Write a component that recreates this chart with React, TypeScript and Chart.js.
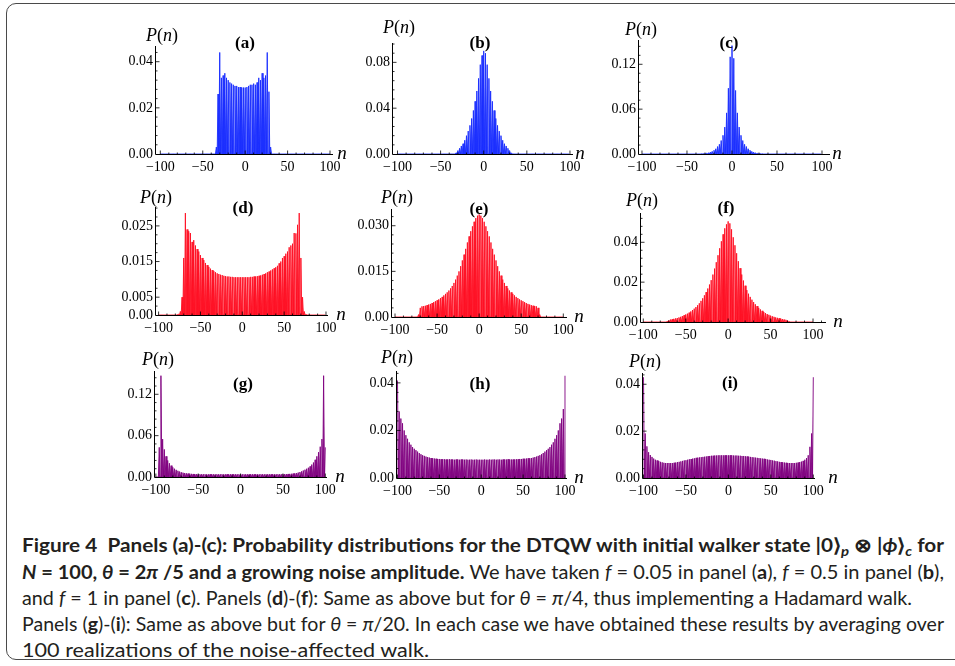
import React, { useEffect, useLayoutEffect, useRef } from "react";
import { Chart, registerables } from "chart.js";

Chart.register(...registerables);

// ---------- DATA ----------
// lattice sites n of the walk (N = 100 steps)
const SITES = [
  -100, -99, -98, -97, -96, -95, -94, -93, -92, -91,
  -90, -89, -88, -87, -86, -85, -84, -83, -82, -81,
  -80, -79, -78, -77, -76, -75, -74, -73, -72, -71,
  -70, -69, -68, -67, -66, -65, -64, -63, -62, -61,
  -60, -59, -58, -57, -56, -55, -54, -53, -52, -51,
  -50, -49, -48, -47, -46, -45, -44, -43, -42, -41,
  -40, -39, -38, -37, -36, -35, -34, -33, -32, -31,
  -30, -29, -28, -27, -26, -25, -24, -23, -22, -21,
  -20, -19, -18, -17, -16, -15, -14, -13, -12, -11,
  -10, -9, -8, -7, -6, -5, -4, -3, -2, -1,
  0, 1, 2, 3, 4, 5, 6, 7, 8, 9,
  10, 11, 12, 13, 14, 15, 16, 17, 18, 19,
  20, 21, 22, 23, 24, 25, 26, 27, 28, 29,
  30, 31, 32, 33, 34, 35, 36, 37, 38, 39,
  40, 41, 42, 43, 44, 45, 46, 47, 48, 49,
  50, 51, 52, 53, 54, 55, 56, 57, 58, 59,
  60, 61, 62, 63, 64, 65, 66, 67, 68, 69,
  70, 71, 72, 73, 74, 75, 76, 77, 78, 79,
  80, 81, 82, 83, 84, 85, 86, 87, 88, 89,
  90, 91, 92, 93, 94, 95, 96, 97, 98, 99,
  100,
];

// after an even number of steps the walker is never found on an odd site
const ODD_SITE_P = 0;

// P(n) on even sites n = -100, -98, ..., 100 (each row = 10 sites)
const P_A = [
  0, 0, 0, 0, 0, 0, 0, 0, 0, 0,
  0, 0, 0, 0, 0, 0, 0, 0, 0, 0,
  0, 0, 0, 0, 0, 0, 0, 0, 0, 0,
  0, 0, 0, 0.003, 0.026, 0.044, 0.033, 0.034, 0.035, 0.033,
  0.032, 0.031, 0.0305, 0.03, 0.0295, 0.0295, 0.029, 0.029, 0.0288, 0.0288,
  0.0288, 0.029, 0.0295, 0.03, 0.03, 0.0305, 0.03, 0.031, 0.033, 0.032,
  0.035, 0.033, 0.034, 0.044, 0.027, 0.003, 0, 0, 0, 0,
  0, 0, 0, 0, 0, 0, 0, 0, 0, 0,
  0, 0, 0, 0, 0, 0, 0, 0, 0, 0,
  0, 0, 0, 0, 0, 0, 0, 0, 0, 0,
  0,
];
const P_B = [
  0, 0, 0, 0, 0, 0, 0, 0, 0, 0,
  0, 0, 0, 0, 0, 0, 0, 0, 0, 0,
  0, 0, 0, 0, 0, 0, 0, 0, 0, 0,
  0, 0, 0, 0, 0.001, 0.003, 0.005, 0.007, 0.009, 0.012,
  0.016, 0.02, 0.025, 0.031, 0.038, 0.046, 0.055, 0.066, 0.078, 0.086,
  0.09, 0.088, 0.078, 0.066, 0.055, 0.046, 0.038, 0.031, 0.025, 0.02,
  0.016, 0.012, 0.009, 0.007, 0.005, 0.003, 0.001, 0, 0, 0,
  0, 0, 0, 0, 0, 0, 0, 0, 0, 0,
  0, 0, 0, 0, 0, 0, 0, 0, 0, 0,
  0, 0, 0, 0, 0, 0, 0, 0, 0, 0,
  0,
];
const P_C = [
  0, 0, 0, 0, 0, 0, 0, 0, 0, 0,
  0, 0, 0, 0, 0, 0, 0, 0, 0, 0,
  0, 0, 0, 0, 0, 0, 0, 0, 0, 0,
  0, 0, 0, 0.0002, 0.0004, 0.0007, 0.001, 0.0017, 0.0025, 0.0035,
  0.005, 0.007, 0.01, 0.013, 0.018, 0.025, 0.036, 0.055, 0.088, 0.13,
  0.145, 0.128, 0.085, 0.055, 0.036, 0.025, 0.018, 0.013, 0.01, 0.007,
  0.005, 0.0035, 0.0025, 0.0017, 0.001, 0.0007, 0.0004, 0.0002, 0, 0,
  0, 0, 0, 0, 0, 0, 0, 0, 0, 0,
  0, 0, 0, 0, 0, 0, 0, 0, 0, 0,
  0, 0, 0, 0, 0, 0, 0, 0, 0, 0,
  0,
];
const P_D = [
  0, 0, 0, 0, 0, 0, 0, 0, 0, 0,
  0, 0, 0.0002, 0.001, 0.005, 0.016, 0.0286, 0.024, 0.0235, 0.023,
  0.0205, 0.021, 0.0195, 0.0185, 0.0178, 0.0168, 0.016, 0.0154, 0.0146, 0.014,
  0.0135, 0.013, 0.0126, 0.0123, 0.012, 0.0117, 0.0115, 0.0113, 0.0112, 0.011,
  0.0109, 0.0108, 0.0108, 0.0107, 0.0107, 0.0106, 0.0106, 0.0106, 0.0106, 0.0106,
  0.0106, 0.0106, 0.0106, 0.0106, 0.0106, 0.0107, 0.0107, 0.0108, 0.0108, 0.0109,
  0.011, 0.0111, 0.0113, 0.0115, 0.0117, 0.012, 0.0122, 0.0125, 0.0128, 0.0131,
  0.0134, 0.0138, 0.0145, 0.015, 0.016, 0.0165, 0.0172, 0.0178, 0.019, 0.0195,
  0.02, 0.023, 0.0229, 0.0253, 0.0286, 0.016, 0.005, 0.001, 0.0002, 0,
  0, 0, 0, 0, 0, 0, 0, 0, 0, 0,
  0,
];
const P_E = [
  0, 0, 0, 0, 0, 0, 0, 0, 0, 0,
  0, 0, 0, 0, 0.0008, 0.003, 0.0035, 0.0036, 0.0037, 0.0039,
  0.0041, 0.0043, 0.0046, 0.0049, 0.0052, 0.0055, 0.0058, 0.0062, 0.0066, 0.0071,
  0.0076, 0.0081, 0.0087, 0.0094, 0.0102, 0.0112, 0.0123, 0.0136, 0.015, 0.0167,
  0.0186, 0.0205, 0.0224, 0.0245, 0.0265, 0.0282, 0.0298, 0.0313, 0.0325, 0.0333,
  0.0337, 0.0333, 0.0325, 0.0313, 0.0298, 0.0282, 0.0265, 0.0245, 0.0224, 0.0205,
  0.0186, 0.0167, 0.015, 0.0136, 0.0123, 0.0112, 0.0102, 0.0094, 0.0087, 0.0081,
  0.0076, 0.0071, 0.0066, 0.0062, 0.0058, 0.0055, 0.0052, 0.0049, 0.0046, 0.0043,
  0.0041, 0.0039, 0.0037, 0.0036, 0.0035, 0.003, 0.0008, 0, 0, 0,
  0, 0, 0, 0, 0, 0, 0, 0, 0, 0,
  0,
];
const P_F = [
  0, 0, 0, 0, 0, 0, 0, 0, 0, 0,
  0, 0, 0, 0, 0.0003, 0.0008, 0.0012, 0.0014, 0.0016, 0.0018,
  0.002, 0.0023, 0.0026, 0.003, 0.0034, 0.0038, 0.0042, 0.0047, 0.0053, 0.006,
  0.0067, 0.0075, 0.0084, 0.0094, 0.0106, 0.0119, 0.0134, 0.015, 0.0168, 0.0188,
  0.021, 0.0238, 0.0268, 0.03, 0.0335, 0.037, 0.0405, 0.044, 0.047, 0.049,
  0.0505, 0.0495, 0.0465, 0.0425, 0.0385, 0.0345, 0.0305, 0.027, 0.0238, 0.0208,
  0.0182, 0.016, 0.0142, 0.0126, 0.0112, 0.01, 0.0089, 0.008, 0.0071, 0.0063,
  0.0056, 0.005, 0.0045, 0.004, 0.0036, 0.0032, 0.0029, 0.0026, 0.0023, 0.0021,
  0.0019, 0.0017, 0.0015, 0.0013, 0.0011, 0.0007, 0.0002, 0, 0, 0,
  0, 0, 0, 0, 0, 0, 0, 0, 0, 0,
  0,
];
const P_G = [
  0, 0, 0.043, 0.147, 0.055, 0.04, 0.03, 0.024, 0.02, 0.0165,
  0.014, 0.012, 0.0104, 0.009, 0.0079, 0.007, 0.0063, 0.0058, 0.0054, 0.005,
  0.0048, 0.0046, 0.0044, 0.0043, 0.0042, 0.0041, 0.004, 0.004, 0.0041, 0.004,
  0.004, 0.0039, 0.004, 0.004, 0.0039, 0.004, 0.004, 0.0039, 0.004, 0.004,
  0.0039, 0.004, 0.004, 0.0039, 0.004, 0.004, 0.0039, 0.004, 0.004, 0.0039,
  0.004, 0.004, 0.0039, 0.004, 0.004, 0.0039, 0.004, 0.004, 0.0039, 0.004,
  0.004, 0.0039, 0.004, 0.004, 0.0039, 0.004, 0.004, 0.004, 0.0039, 0.004,
  0.004, 0.004, 0.004, 0.004, 0.004, 0.0041, 0.0042, 0.0043, 0.0044, 0.0045,
  0.0047, 0.005, 0.0053, 0.0058, 0.0064, 0.0072, 0.0082, 0.0094, 0.0106, 0.012,
  0.0135, 0.0154, 0.018, 0.021, 0.025, 0.03, 0.036, 0.044, 0.055, 0.147,
  0.043,
];
const P_H = [
  0.041, 0.028, 0.025, 0.023, 0.02, 0.018, 0.0165, 0.015, 0.014, 0.013,
  0.0123, 0.0117, 0.0111, 0.0105, 0.01, 0.0096, 0.0093, 0.009, 0.0088, 0.0086,
  0.0084, 0.0083, 0.0082, 0.0081, 0.008, 0.008, 0.0079, 0.0079, 0.0079, 0.0078,
  0.0078, 0.0079, 0.0078, 0.0078, 0.0077, 0.0078, 0.0078, 0.0077, 0.0078, 0.0078,
  0.0077, 0.0078, 0.0077, 0.0077, 0.0078, 0.0077, 0.0077, 0.0078, 0.0077, 0.0077,
  0.0077, 0.0077, 0.0078, 0.0077, 0.0077, 0.0078, 0.0077, 0.0078, 0.0078, 0.0077,
  0.0078, 0.0078, 0.0077, 0.0078, 0.0078, 0.0078, 0.0079, 0.0078, 0.0078, 0.0078,
  0.0078, 0.0079, 0.0079, 0.008, 0.008, 0.0081, 0.0081, 0.0082, 0.0083, 0.0083,
  0.0084, 0.0086, 0.0088, 0.009, 0.0093, 0.0096, 0.01, 0.0105, 0.0111, 0.0117,
  0.0123, 0.013, 0.014, 0.015, 0.0165, 0.018, 0.02, 0.023, 0.025, 0.029,
  0.043,
];
const P_I = [
  0.043, 0.019, 0.0135, 0.011, 0.0098, 0.009, 0.0083, 0.0078, 0.0075, 0.0072,
  0.0069, 0.0067, 0.0065, 0.0064, 0.0064, 0.0064, 0.0064, 0.0064, 0.0065, 0.0066,
  0.0068, 0.0069, 0.0071, 0.0073, 0.0075, 0.0076, 0.0078, 0.008, 0.0081, 0.0083,
  0.0084, 0.0086, 0.0087, 0.0088, 0.0089, 0.009, 0.0091, 0.0092, 0.0093, 0.0094,
  0.0095, 0.0095, 0.0096, 0.0096, 0.0097, 0.0097, 0.0097, 0.0097, 0.0097, 0.0097,
  0.0097, 0.0097, 0.0097, 0.0096, 0.0096, 0.0096, 0.0095, 0.0095, 0.0094, 0.0094,
  0.0093, 0.0092, 0.0091, 0.009, 0.0089, 0.0088, 0.0087, 0.0086, 0.0085, 0.0084,
  0.0083, 0.0082, 0.0081, 0.0079, 0.0078, 0.0077, 0.0075, 0.0074, 0.0072, 0.0071,
  0.0069, 0.0068, 0.0067, 0.0066, 0.0065, 0.0064, 0.0064, 0.0064, 0.0064, 0.0064,
  0.0065, 0.0066, 0.0068, 0.007, 0.0073, 0.0078, 0.0085, 0.0097, 0.0133, 0.019,
  0.043,
];

// ticks
const X_TICKS = [-100, -50, 0, 50, 100];
const X_TICK_LABELS = ["\u2212100", "\u221250", "0", "50", "100"];
const Y_TICKS_A = [0, 0.02, 0.04];
const Y_LABELS_A = ["0.00", "0.02", "0.04"];
const Y_TICKS_B = [0, 0.04, 0.08];
const Y_LABELS_B = ["0.00", "0.04", "0.08"];
const Y_TICKS_C = [0, 0.06, 0.12];
const Y_LABELS_C = ["0.00", "0.06", "0.12"];
const Y_TICKS_D = [0, 0.005, 0.015, 0.025];
const Y_LABELS_D = ["0.00", "0.005", "0.015", "0.025"];
const Y_TICKS_E = [0, 0.015, 0.03];
const Y_LABELS_E = ["0.00", "0.015", "0.030"];
const Y_TICKS_F = [0, 0.02, 0.04];
const Y_LABELS_F = ["0.00", "0.02", "0.04"];
const Y_TICKS_G = [0, 0.06, 0.12];
const Y_LABELS_G = ["0.00", "0.06", "0.12"];
const Y_TICKS_H = [0, 0.02, 0.04];
const Y_LABELS_H = ["0.00", "0.02", "0.04"];
const Y_TICKS_I = [0, 0.02, 0.04];
const Y_LABELS_I = ["0.00", "0.02", "0.04"];

// ---------- STYLE / LAYOUT ----------
const SERIF = '"Liberation Serif", "DejaVu Serif", serif';
const CAPTION_FONT = 'Lato, "Open Sans", "Noto Sans", sans-serif';
const BLUE = { line: "rgb(25,45,255)", fill: "rgba(25,45,255,0.85)" };
const RED = { line: "rgb(255,15,35)", fill: "rgba(255,15,35,0.85)" };
const PURPLE = { line: "rgb(128,0,128)", fill: "rgba(128,0,128,0.85)" };

const AXIS_W = 46; // room for y tick labels
const AXIS_H = 28; // room for x tick labels
const PAD_T = 6;
const PAD_R = 18;
const TICK_FONT = 14;

type Spec = {
  title: string;
  values: number[];
  yTicks: number[];
  yLabels: string[];
  yMinor: number;
  color: { line: string; fill: string };
  L: number; T: number; R: number; B: number;
  xMin: number; xMax: number; yMax: number;
  tx: number; ty: number; px: number; py: number; nx: number; ny: number;
};

const PANELS: Spec[] = [
  { title: "(a)", values: P_A, yTicks: Y_TICKS_A, yLabels: Y_LABELS_A, yMinor: 0.004, color: BLUE,
    L: 156, T: 46, R: 333, B: 154, xMin: -105.1, xMax: 103.5, yMax: 0.0468,
    tx: 245, ty: 42, px: 162, py: 35, nx: 342, ny: 152 },
  { title: "(b)", values: P_B, yTicks: Y_TICKS_B, yLabels: Y_LABELS_B, yMinor: 0.008, color: BLUE,
    L: 393, T: 43, R: 573, B: 154, xMin: -105.2, xMax: 103.5, yMax: 0.0969,
    tx: 480, ty: 42, px: 399, py: 27, nx: 580, ny: 152 },
  { title: "(c)", values: P_C, yTicks: Y_TICKS_C, yLabels: Y_LABELS_C, yMinor: 0.012, color: BLUE,
    L: 639, T: 40, R: 830, B: 154, xMin: -103.3, xMax: 108.9, yMax: 0.1525,
    tx: 729, ty: 42, px: 641, py: 29, nx: 837, ny: 152 },
  { title: "(d)", values: P_D, yTicks: Y_TICKS_D, yLabels: Y_LABELS_D, yMinor: 0.0025, color: RED,
    L: 156, T: 207, R: 328, B: 315, xMin: -103.1, xMax: 102.4, yMax: 0.0303,
    tx: 243, ty: 207, px: 156, py: 197, nx: 341, ny: 313 },
  { title: "(e)", values: P_E, yTicks: Y_TICKS_E, yLabels: Y_LABELS_E, yMinor: 0.003, color: RED,
    L: 392, T: 209, R: 567, B: 317, xMin: -103.6, xMax: 104.4, yMax: 0.0355,
    tx: 479, ty: 208, px: 397, py: 197, nx: 579, ny: 315 },
  { title: "(f)", values: P_F, yTicks: Y_TICKS_F, yLabels: Y_LABELS_F, yMinor: 0.004, color: RED,
    L: 641, T: 213, R: 826, B: 322, xMin: -102.7, xMax: 115.3, yMax: 0.0547,
    tx: 726, ty: 207, px: 642, py: 200, nx: 838, ny: 320 },
  { title: "(g)", values: P_G, yTicks: Y_TICKS_G, yLabels: Y_LABELS_G, yMinor: 0.012, color: PURPLE,
    L: 155, T: 371, R: 327, B: 477, xMin: -101, xMax: 102, yMax: 0.1538,
    tx: 243, ty: 383, px: 158, py: 359, nx: 340, ny: 475 },
  { title: "(h)", values: P_H, yTicks: Y_TICKS_H, yLabels: Y_LABELS_H, yMinor: 0.004, color: PURPLE,
    L: 397, T: 371, R: 567, B: 478, xMin: -100.6, xMax: 102.4, yMax: 0.045,
    tx: 480, ty: 383, px: 397, py: 357, nx: 579, ny: 476 },
  { title: "(i)", values: P_I, yTicks: Y_TICKS_I, yLabels: Y_LABELS_I, yMinor: 0.004, color: PURPLE,
    L: 643, T: 373, R: 815, B: 478, xMin: -100.6, xMax: 102, yMax: 0.0448,
    tx: 730, ty: 382, px: 645, py: 361, nx: 833, ny: 476 },
];

function buildSeries(evenP: number[]) {
  return SITES.map((n) => ({
    x: n,
    y: n % 2 === 0 ? evenP[(n + 100) / 2] : ODD_SITE_P,
  }));
}

// Mathematica-style axes: black axis lines with inward major/minor ticks
const mmaAxes = {
  id: "mmaAxes",
  afterDraw(chart: any, _args: any, opts: any) {
    const { ctx, chartArea } = chart;
    const xs = chart.scales.x;
    const ys = chart.scales.y;
    const { left, right, top, bottom } = chartArea;
    const ax = left - 0.5;
    const ay = bottom + 0.5;
    ctx.save();
    ctx.strokeStyle = "#000";
    ctx.lineWidth = 1;
    ctx.beginPath();
    ctx.moveTo(ax, top);
    ctx.lineTo(ax, ay);
    ctx.lineTo(right, ay);
    ctx.stroke();

    ctx.lineWidth = 0.8;
    ctx.beginPath();
    const xMinor: number = opts.xMinor;
    for (let k = Math.ceil(xs.min / xMinor); k * xMinor <= xs.max; k++) {
      const v = k * xMinor;
      const p = xs.getPixelForValue(v);
      const major = (opts.xMajor as number[]).some((m) => Math.abs(m - v) < 1e-9);
      ctx.moveTo(p, ay);
      ctx.lineTo(p, ay - (major ? 4 : 2));
    }
    const yMinor: number = opts.yMinor;
    for (let k = 1; k * yMinor <= ys.max + 1e-12; k++) {
      const v = k * yMinor;
      const p = ys.getPixelForValue(v);
      const major = (opts.yMajor as number[]).some((m) => Math.abs(m - v) < 1e-9);
      ctx.moveTo(ax, p);
      ctx.lineTo(ax + (major ? 4 : 2), p);
    }
    ctx.stroke();
    ctx.restore();
  },
};

function Panel({ spec }: { spec: Spec }) {
  const ref = useRef<HTMLCanvasElement | null>(null);
  const cw = spec.R - spec.L + AXIS_W + PAD_R;
  const ch = spec.B - spec.T + PAD_T + AXIS_H;

  useEffect(() => {
    if (!ref.current) return;
    const chart = new Chart(ref.current, {
      type: "line",
      data: {
        datasets: [
          {
            data: buildSeries(spec.values),
            borderColor: spec.color.line,
            backgroundColor: spec.color.fill,
            borderWidth: 0.9,
            pointRadius: 0,
            fill: "origin",
            tension: 0,
          },
        ],
      },
      options: {
        animation: false,
        responsive: false,
        maintainAspectRatio: false,
        events: [],
        layout: { padding: { top: PAD_T, right: PAD_R, left: 0, bottom: 0 } },
        plugins: {
          legend: { display: false },
          tooltip: { enabled: false },
          mmaAxes: { xMajor: X_TICKS, xMinor: 10, yMajor: spec.yTicks, yMinor: spec.yMinor },
        } as any,
        scales: {
          x: {
            type: "linear",
            min: spec.xMin,
            max: spec.xMax,
            grid: { display: false, drawTicks: false },
            border: { display: false },
            afterBuildTicks: (s: any) => {
              s.ticks = X_TICKS.map((v) => ({ value: v }));
            },
            afterFit: (s: any) => {
              s.height = AXIS_H;
              s.paddingLeft = 0;
              s.paddingRight = 0;
            },
            ticks: {
              autoSkip: false,
              maxRotation: 0,
              minRotation: 0,
              padding: 5,
              color: "#000",
              font: { family: SERIF, size: TICK_FONT },
              callback: (_v: any, i: number) => X_TICK_LABELS[i],
            },
          },
          y: {
            type: "linear",
            min: 0,
            max: spec.yMax,
            grid: { display: false, drawTicks: false },
            border: { display: false },
            afterBuildTicks: (s: any) => {
              s.ticks = spec.yTicks.map((v) => ({ value: v }));
            },
            afterFit: (s: any) => {
              s.width = AXIS_W;
              s.paddingTop = 0;
              s.paddingBottom = 0;
            },
            ticks: {
              autoSkip: false,
              padding: 3,
              color: "#000",
              font: { family: SERIF, size: TICK_FONT },
              callback: (_v: any, i: number) => spec.yLabels[i],
            },
          },
        },
      } as any,
      plugins: [mmaAxes as any],
    });
    return () => chart.destroy();
  }, [spec]);

  const center: React.CSSProperties = {
    position: "absolute",
    transform: "translate(-50%, -50%)",
    whiteSpace: "nowrap",
    lineHeight: 1,
    fontFamily: SERIF,
    color: "#000",
  };

  return (
    <>
      <canvas
        ref={ref}
        width={cw}
        height={ch}
        style={{
          position: "absolute",
          left: spec.L - AXIS_W,
          top: spec.T - PAD_T,
          width: cw,
          height: ch,
        }}
      />
      <div style={{ ...center, left: spec.tx, top: spec.ty, fontWeight: "bold", fontSize: 17 }}>
        {spec.title}
      </div>
      <div style={{ ...center, left: spec.px, top: spec.py, fontSize: 18 }}>
        <i>P</i>(<i>n</i>)
      </div>
      <div style={{ ...center, left: spec.nx, top: spec.ny, fontSize: 19, fontStyle: "italic" }}>
        n
      </div>
    </>
  );
}

const CAPTION_LEFT = 22;
const CAPTION_WIDTHS = [922, 922, 890, 922, 407];
const CAPTION_CENTERS = [545, 572, 598, 624, 650];

function Caption() {
  const refs = useRef<(HTMLDivElement | null)[]>([]);
  useLayoutEffect(() => {
    const fit = () => {
      refs.current.forEach((el, i) => {
        if (!el) return;
        el.style.transform = "none";
        const w = el.getBoundingClientRect().width;
        if (w > 0) el.style.transform = `scaleX(${CAPTION_WIDTHS[i] / w})`;
      });
    };
    fit();
    const fonts = (document as any).fonts;
    if (fonts && fonts.ready) fonts.ready.then(fit);
  }, []);

  const sub: React.CSSProperties = { fontSize: "72%", verticalAlign: "-0.3em", fontStyle: "italic" };
  const lines: React.ReactNode[] = [
    <b>
      Figure 4&nbsp;&nbsp;Panels (a)-(c): Probability distributions for the DTQW with initial walker state |0⟩
      <span style={sub}>p</span> ⊗ |<i>ϕ</i>⟩<span style={sub}>c</span> for
    </b>,
    <>
      <b>
        <i>N</i> = 100, <i>θ</i> = 2<i>π</i> /5 and a growing noise amplitude.
      </b>{" "}
      We have taken <i>f</i> = 0.05 in panel (<b>a</b>), <i>f</i> = 0.5 in panel (<b>b</b>),
    </>,
    <>
      and <i>f</i> = 1 in panel (<b>c</b>). Panels (<b>d</b>)-(<b>f</b>): Same as above but for <i>θ</i> ={" "}
      <i>π</i>/4, thus implementing a Hadamard walk.
    </>,
    <>
      Panels (<b>g</b>)-(<b>i</b>): Same as above but for <i>θ</i> = <i>π</i>/20. In each case we have obtained
      these results by averaging over
    </>,
    <>100 realizations of the noise-affected walk.</>,
  ];

  return (
    <>
      {lines.map((content, i) => (
        <div
          key={i}
          ref={(el) => {
            refs.current[i] = el;
          }}
          style={{
            position: "absolute",
            left: CAPTION_LEFT,
            top: CAPTION_CENTERS[i] - 11,
            lineHeight: "22px",
            fontSize: 18.5,
            fontFamily: CAPTION_FONT,
            color: "#231f20",
            whiteSpace: "nowrap",
            transformOrigin: "0 50%",
          }}
        >
          {content}
        </div>
      ))}
    </>
  );
}

export default function App() {
  return (
    <div
      style={{
        position: "absolute",
        left: 0,
        top: 0,
        width: 955,
        height: 666,
        overflow: "hidden",
        background: "#fff",
      }}
    >
      <div
        style={{
          position: "absolute",
          left: 6,
          top: 3,
          width: 970,
          height: 657,
          border: "1.5px solid #4a4a4a",
          borderRadius: 10,
          boxSizing: "border-box",
        }}
      />
      {PANELS.map((p) => (
        <Panel key={p.title} spec={p} />
      ))}
      <Caption />
    </div>
  );
}
